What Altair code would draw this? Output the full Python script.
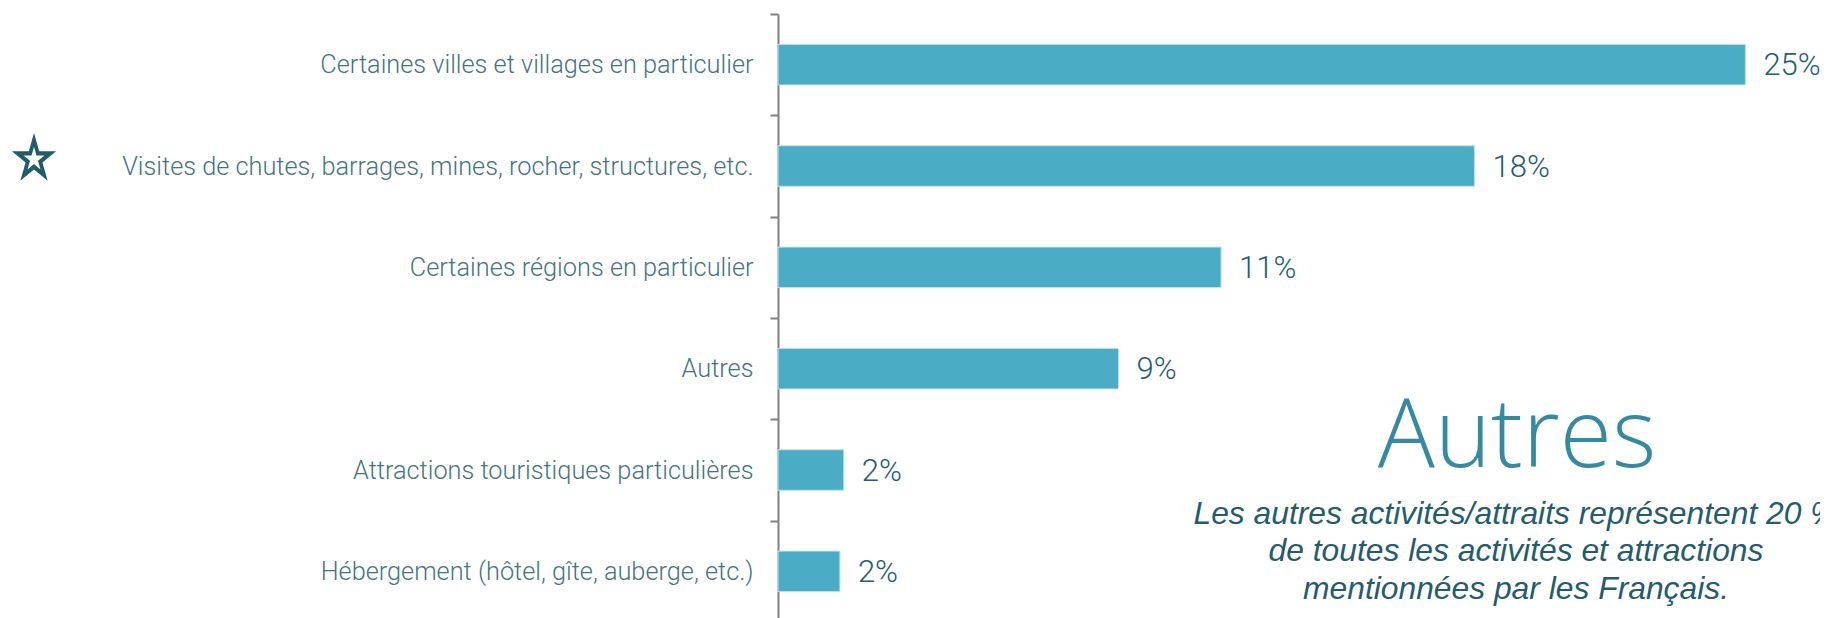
import math
import altair as alt
import pandas as pd

# ---------------- data ----------------
categories = [
    "Certaines villes et villages en particulier",
    "Visites de chutes, barrages, mines, rocher, structures, etc.",
    "Certaines régions en particulier",
    "Autres",
    "Attractions touristiques particulières",
    "Hébergement (hôtel, gîte, auberge, etc.)",
]
values = [25.0, 18.0, 11.45, 8.8, 1.7, 1.6]
value_labels = ["25%", "18%", "11%", "9%", "2%", "2%"]
starred = ["Visites de chutes, barrages, mines, rocher, structures, etc."]
side_title = ["Autres"]
side_note = ["Les autres activités/attraits représentent 20 %\nde toutes les activités et attractions\nmentionnées par les Français."]

df = pd.DataFrame({"cat": categories, "val": values, "lab": value_labels})
star_df = pd.DataFrame({"cat": starred})
title_df = pd.DataFrame({"t": side_title})
note_df = pd.DataFrame({"t": side_note})


def star_path(inner=0.382, xscale=0.88):
    pts = []
    for k in range(10):
        a = math.radians(-90 + 36 * k)
        r = 1.0 if k % 2 == 0 else inner
        pts.append((r * math.cos(a) * xscale, r * math.sin(a)))
    return "M" + "L".join(f"{x:.4f},{y:.4f}" for x, y in pts) + "Z"


STAR = star_path()

ysc = alt.Scale(domain=categories, paddingInner=0, paddingOuter=0)
y_enc = alt.Y(
    "cat:N",
    sort=categories,
    scale=ysc,
    title=None,
    axis=alt.Axis(
        domainColor="#808080",
        domainWidth=2,
        tickColor="#808080",
        tickWidth=2,
        tickSize=8,
        tickBand="extent",
        labelFont="Roboto",
        labelFontWeight=300,
        labelFontSize=25.3,
        labelColor="#44747f",
        labelPadding=17,
        labelLimit=0,
        grid=False,
    ),
)
x_enc = alt.X(
    "val:Q",
    scale=alt.Scale(domain=[0, 26.85], nice=False, zero=True),
    axis=None,
)

base = alt.Chart(df)

bars = base.mark_bar(
    color="#4BACC6",
    stroke="#bfe2ec",
    strokeWidth=1,
    height=alt.RelativeBandSize(0.4),
).encode(y=y_enc, x=x_enc)

labels = base.mark_text(
    align="left",
    baseline="middle",
    dx=18,
    dy=1.5,
    font="Roboto",
    fontWeight=300,
    fontSize=31,
    color="#235d6e",
).encode(y=alt.Y("cat:N", sort=categories, scale=ysc), x=x_enc, text="lab:N")

star_outer = alt.Chart(star_df).mark_point(
    shape=STAR, filled=True, fill="#215a6b", opacity=1, size=2788, strokeWidth=0
).encode(
    y=alt.Y("cat:N", sort=categories, scale=ysc),
    yOffset=alt.value(44),
    x=alt.value(-744),
)
star_inner = alt.Chart(star_df).mark_point(
    shape=STAR, filled=True, fill="#ffffff", opacity=1, size=625, strokeWidth=0
).encode(
    y=alt.Y("cat:N", sort=categories, scale=ysc),
    yOffset=alt.value(44),
    x=alt.value(-744),
)

title_txt = alt.Chart(title_df).mark_text(
    align="center",
    baseline="alphabetic",
    font="Open Sans",
    fontWeight=300,
    fontSize=95,
    color="#3589a1",
).encode(text="t:N", x=alt.value(739), y=alt.value(453))

note_txt = alt.Chart(note_df).mark_text(
    align="center",
    baseline="alphabetic",
    font="Liberation Sans",
    fontStyle="italic",
    fontSize=31.8,
    lineHeight=37.5,
    lineBreak="\n",
    color="#245c6c",
).encode(text="t:N", x=alt.value(738), y=alt.value(509.7))

chart = (
    alt.layer(bars, labels, star_outer, star_inner, title_txt, note_txt)
    .properties(
        width=1039,
        height=608,
        autosize=alt.AutoSizeParams(type="none"),
        padding={"left": 770, "top": 6, "right": 3, "bottom": 0},
        background="white",
    )
    .configure_view(stroke=None)
)

chart.save("out.html", embed_options={"renderer": "svg", "actions": False})
